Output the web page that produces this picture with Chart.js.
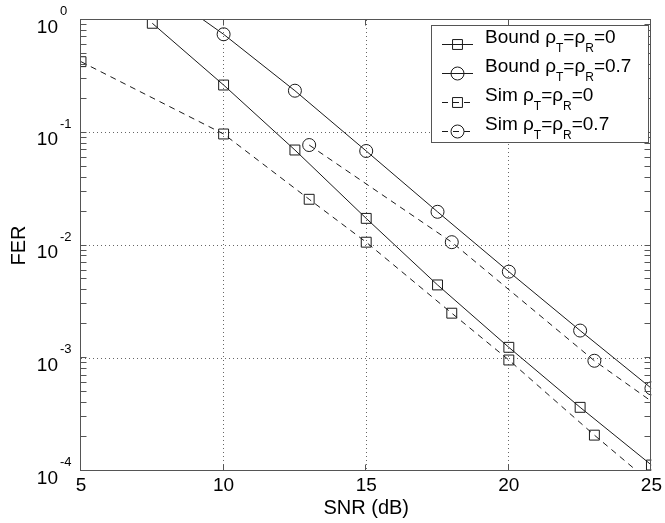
<!DOCTYPE html>
<html>
<head>
<meta charset="utf-8">
<script src="https://cdn.jsdelivr.net/npm/chart.js@4.4.1/dist/chart.umd.min.js"></script>
<style>
  html, body { margin: 0; padding: 0; background: #fff; }
  #wrap { width: 665px; height: 523px; }
</style>
</head>
<body>
<div id="wrap"><canvas id="ferChart" width="665" height="523"></canvas></div>
<script>
// values (points just outside the frame are only there so the lines run to the edge)
const snrBound = [7.5, 10, 12.5, 15, 17.5, 20, 22.5, 25];
const ferBound0 = [0.935, 0.265, 0.0703, 0.0174, 0.00447, 0.00125, 0.000367, 0.000113];
const ferBound07 = [2.1, 0.747, 0.236, 0.0689, 0.0199, 0.00586, 0.00176, 0.000541];
const snrSim0 = [5, 10, 13, 15, 18, 20, 23, 25];
const ferSim0 = [0.427, 0.0975, 0.0257, 0.0107, 0.00251, 0.000965, 0.000208, 0.000078];
const snrSim07 = [13, 18, 23, 28];
const ferSim07 = [0.0778, 0.0107, 0.00095, 0.00012];

const xTicks = [5, 10, 15, 20, 25];
const yExponents = [0, -1, -2, -3, -4];
const legendNames = ["Bound", "Bound", "Sim", "Sim"];
const legendRho = ["0", "0.7", "0", "0.7"];

const FONT = "'Liberation Sans', Arial, Helvetica, sans-serif";
const lineColor = "#1a1a1a";
const frameColor = "#555";
const gridColor = "#666";

const toPoints = (xs, ys) => xs.map((x, i) => ({ x: x, y: ys[i] }));

const makeSet = (label, xs, ys, style, dashed) => ({
  label: label,
  data: toPoints(xs, ys),
  borderColor: lineColor,
  borderWidth: 1,
  borderDash: dashed ? [6, 5] : [],
  pointStyle: style,
  pointRadius: style === "rect" ? 7 : 6.5,
  pointBorderColor: lineColor,
  pointBorderWidth: 1,
  pointBackgroundColor: "rgba(0,0,0,0)",
  tension: 0,
  fill: false,
});

const isDecade = (v) => Math.abs(Math.log10(v) - Math.round(Math.log10(v))) < 1e-6;

// draws the marker the same way for the legend
const drawMarker = (ctx, style, r, x, y) => {
  ctx.beginPath();
  if (style === "rect") {
    const s = Math.SQRT1_2 * r;
    ctx.rect(x - s, y - s, 2 * s, 2 * s);
  } else {
    ctx.arc(x, y, r, 0, Math.PI * 2);
  }
  ctx.stroke();
};

const matlabAxes = {
  id: "matlabAxes",
  afterDraw(chart) {
    const { ctx, chartArea: a, scales } = chart;
    const x = scales.x;
    const y = scales.y;
    const L = Math.round(a.left) - 0.5;
    const R = Math.round(a.right) - 0.5;
    const T = Math.round(a.top) - 0.5;
    const B = Math.round(a.bottom) - 0.5;

    ctx.save();
    ctx.strokeStyle = frameColor;
    ctx.lineWidth = 1;
    ctx.setLineDash([]);
    ctx.strokeRect(L, T, R - L, B - T);

    // inward tick marks
    ctx.beginPath();
    xTicks.forEach((v) => {
      const px = Math.round(x.getPixelForValue(v)) - 0.5;
      ctx.moveTo(px, B);
      ctx.lineTo(px, B - 6);
      ctx.moveTo(px, T);
      ctx.lineTo(px, T + 6);
    });
    yExponents.forEach((e) => {
      for (let m = 1; m <= 9; m++) {
        const v = m * Math.pow(10, e);
        if (v > 1) continue;
        const py = Math.round(y.getPixelForValue(v)) - 0.5;
        ctx.moveTo(L, py);
        ctx.lineTo(L + 6, py);
        ctx.moveTo(R, py);
        ctx.lineTo(R - 6, py);
      }
    });
    ctx.stroke();

    // y tick labels 10^n
    ctx.fillStyle = "#000";
    yExponents.forEach((e) => {
      const py = y.getPixelForValue(Math.pow(10, e));
      ctx.font = "19px " + FONT;
      ctx.textAlign = "right";
      ctx.textBaseline = "alphabetic";
      ctx.fillText("10", 58, py + 12.5);
      ctx.font = "13px " + FONT;
      ctx.textAlign = "left";
      ctx.fillText(String(e), 60, py - 5);
    });

    // legend
    const box = { left: 431.5, top: 25.5, right: 648.5, bottom: 142.5 };
    ctx.fillStyle = "#fff";
    ctx.fillRect(box.left, box.top, box.right - box.left, box.bottom - box.top);
    ctx.strokeStyle = frameColor;
    ctx.strokeRect(box.left, box.top, box.right - box.left, box.bottom - box.top);

    chart.data.datasets.forEach((ds, i) => {
      const ly = 44.5 + 29 * i;
      ctx.strokeStyle = ds.borderColor;
      ctx.lineWidth = 1;
      ctx.setLineDash(ds.borderDash);
      ctx.beginPath();
      ctx.moveTo(442, ly);
      ctx.lineTo(473, ly);
      ctx.stroke();
      ctx.setLineDash([]);
      drawMarker(ctx, ds.pointStyle, ds.pointRadius, 457.5, ly);

      const parts = [
        [legendNames[i] + " \u03c1", false],
        ["T", true],
        ["=\u03c1", false],
        ["R", true],
        ["=" + legendRho[i], false],
      ];
      let tx = 485;
      const base = ly - 1.5;
      ctx.fillStyle = "#000";
      ctx.textAlign = "left";
      ctx.textBaseline = "alphabetic";
      parts.forEach(([t, sub]) => {
        ctx.font = (sub ? 12 : 19) + "px " + FONT;
        ctx.fillText(t, tx, sub ? base + 9 : base);
        tx += ctx.measureText(t).width;
      });
    });
    ctx.restore();
  },
};

const ctx = document.getElementById("ferChart").getContext("2d");
const chart = new Chart(ctx, {
  type: "line",
  data: {
    datasets: [
      makeSet("Bound rho=0", snrBound, ferBound0, "rect", false),
      makeSet("Bound rho=0.7", snrBound, ferBound07, "circle", false),
      makeSet("Sim rho=0", snrSim0, ferSim0, "rect", true),
      makeSet("Sim rho=0.7", snrSim07, ferSim07, "circle", true),
    ],
  },
  options: {
    responsive: false,
    animation: false,
    layout: { padding: { top: 20, right: 12, left: 0, bottom: 0 } },
    plugins: { legend: { display: false }, tooltip: { enabled: false } },
    scales: {
      x: {
        type: "linear",
        min: 5,
        max: 25,
        afterFit: (scale) => { scale.height = 52; },
        afterBuildTicks: (scale) => { scale.ticks = xTicks.map((v) => ({ value: v })); },
        ticks: { color: "#000", font: { family: FONT, size: 19 }, padding: 3, maxRotation: 0 },
        grid: {
          drawTicks: false,
          lineWidth: 1,
          color: (c) => (c.tick && (c.tick.value === 5 || c.tick.value === 25) ? "rgba(0,0,0,0)" : gridColor),
        },
        border: { display: false, dash: [1, 3] },
        title: {
          display: true,
          text: "SNR (dB)",
          color: "#000",
          font: { family: FONT, size: 20, lineHeight: 1.2 },
          padding: { top: 0, bottom: 3 },
        },
      },
      y: {
        type: "logarithmic",
        min: 0.0001,
        max: 1,
        afterFit: (scale) => { scale.width = 81; },
        ticks: { display: false },
        grid: {
          drawTicks: false,
          lineWidth: 1,
          color: (c) => {
            if (!c.tick) return "rgba(0,0,0,0)";
            const v = c.tick.value;
            if (!isDecade(v) || v >= 1 || v <= 0.0001) return "rgba(0,0,0,0)";
            return gridColor;
          },
        },
        border: { display: false, dash: [1, 3] },
        title: {
          display: true,
          text: "FER",
          color: "#000",
          font: { family: FONT, size: 20, lineHeight: 1.2 },
          padding: { top: 7.5, bottom: 0 },
        },
      },
    },
  },
  plugins: [matlabAxes],
});
</script>
</body>
</html>
